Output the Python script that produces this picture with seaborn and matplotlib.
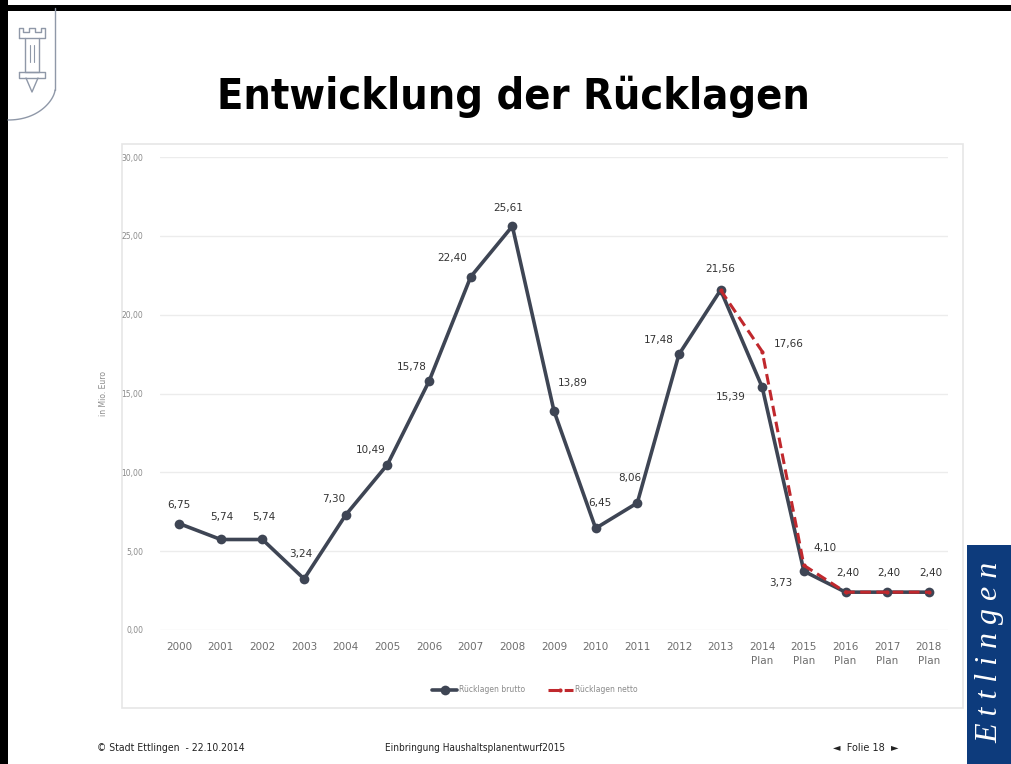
import numpy as np
import pandas as pd
import matplotlib
matplotlib.use("Agg")
import matplotlib.pyplot as plt
from matplotlib.patches import Rectangle
from matplotlib import font_manager
import seaborn as sns

# ---------------- data ----------------
categories = ["2000", "2001", "2002", "2003", "2004", "2005", "2006", "2007", "2008",
              "2009", "2010", "2011", "2012", "2013", "2014\nPlan", "2015\nPlan",
              "2016\nPlan", "2017\nPlan", "2018\nPlan"]
brutto = [6.75, 5.74, 5.74, 3.24, 7.30, 10.49, 15.78, 22.40, 25.61, 13.89, 6.45,
          8.06, 17.48, 21.56, 15.39, 3.73, 2.40, 2.40, 2.40]
netto = [np.nan] * 13 + [21.56, 17.66, 4.10, 2.40, 2.40, 2.40]
yticks = [0, 5, 10, 15, 20, 25, 30]
ytick_labels = ["0,00", "5,00", "10,00", "15,00", "20,00", "25,00", "30,00"]

# label offsets in pixels (dx, dy) for brutto labels
brutto_offsets = [(0, 19), (1, 22), (1, 22), (-3, 25), (-12, 16), (-17, 15), (-17, 14),
                  (-19, 19), (-4, 18), (19, 28), (4, 25), (-7, 25), (-20, 14), (0, 21),
                  (-31, -10), (-23, -12), None, None, None]
netto_offsets = [None] * 13 + [None, (27, 8), (21, 17), (2, 19), (2, 19), (2, 19)]

df = pd.DataFrame({"pos": np.arange(len(categories)), "brutto": brutto, "netto": netto})

W, H = 1012, 764
sns.set_theme(style="white")
plt.rcParams["font.family"] = ["DejaVu Sans"]
fig = plt.figure(figsize=(W / 100, H / 100), dpi=100)
fig.patch.set_facecolor("white")

cond_fp = font_manager.FontProperties(family="DejaVu Sans", weight="bold", stretch="condensed")
narrow_fp = font_manager.FontProperties(family="DejaVu Sans", stretch="condensed")

# ---------------- background decorations ----------------
bg = fig.add_axes([0, 0, 1, 1], zorder=-1)
bg.set_xlim(0, W)
bg.set_ylim(H, 0)
bg.axis("off")
# black slide frame
bg.add_patch(Rectangle((0, 5), W, 6, color="black", lw=0))
bg.add_patch(Rectangle((0, 0), 8, H, color="black", lw=0))
# chart frame
bg.add_patch(Rectangle((122, 144), 841, 564, fill=False, ec="#e6e6e6", lw=1.2))
# logo (shield + tower)
lc = "#8f98a8"
t = np.linspace(0, 1, 30)
bg.plot(55 + 0 * t[:10], np.linspace(8, 90, 10), color=lc, lw=1)
bg.plot(55 - 47 * t ** 1.6, 90 + 30 * np.sin(t * np.pi / 2), color=lc, lw=1)
bg.plot([19, 19, 23, 23, 29, 29, 35, 35, 41, 41, 45, 45, 19],
        [38, 28, 28, 32, 32, 28, 28, 32, 32, 28, 28, 38, 38], color=lc, lw=1)
bg.plot([25, 25, 39, 39], [38, 72, 72, 38], color=lc, lw=1)
bg.plot([19, 45, 45, 19, 19], [72, 72, 78, 78, 72], color=lc, lw=1)
bg.plot([26, 32, 38], [78, 92, 78], color=lc, lw=1)
bg.plot([30, 30], [45, 62], color=lc, lw=0.8)
bg.plot([34, 34], [45, 62], color=lc, lw=0.8)
# Ettlingen brand box
bg.add_patch(Rectangle((967, 545), 45, 219, color="#0d3b7c", lw=0))
bg.text(990, 652, "E t t l i n g e n", rotation=90, ha="center", va="center",
        color="white", fontsize=23, style="italic", family="Liberation Serif")

# title
fig.text(513 / W, 1 - 97 / H, "Entwicklung der Rücklagen", ha="center", va="center",
         fontsize=31, fontproperties=cond_fp, color="black")

# footer
fig.text(97 / W, 1 - 748 / H, "© Stadt Ettlingen  - 22.10.2014", fontsize=7.5,
         fontproperties=narrow_fp, va="center", color="#222222")
fig.text(385 / W, 1 - 748 / H, "Einbringung Haushaltsplanentwurf2015", fontsize=7.2,
         fontproperties=narrow_fp, va="center", color="#222222")
fig.text(866 / W, 1 - 748 / H, "◄  Folie 18  ►", fontsize=7, ha="center",
         family=["DejaVu Sans"], va="center", color="#222222")

# ---------------- chart ----------------
left, right = 160 / W, 948 / W
bottom, top = 1 - 630 / H, 1 - 157 / H
ax = fig.add_axes([left, bottom, right - left, top - bottom])
ax.set_facecolor("none")

gross_c = "#3e4554"
red_c = "#c0282d"

sns.lineplot(data=df, x="pos", y="brutto", ax=ax, color=gross_c, lw=2.6, marker="o",
             markersize=7, markeredgewidth=0, label="Rücklagen brutto", zorder=3)
sns.lineplot(data=df, x="pos", y="netto", ax=ax, color=red_c, lw=2.2, marker="o",
             markersize=3, markeredgewidth=0, dashes=(3.5, 1.8), label="Rücklagen netto",
             zorder=4)

ax.set_xlim(-0.46, len(categories) - 1 + 0.46)
ax.set_ylim(0, 30)
ax.set_yticks(yticks)
ax.set_yticklabels(ytick_labels, fontsize=5.5, color="#8a8a8a")
ax.set_xticks(df["pos"])
ax.set_xticklabels(categories, fontsize=7.5, color="#6e6e6e", linespacing=1.5)
ax.tick_params(axis="both", length=0)
ax.tick_params(axis="x", pad=9)
ax.tick_params(axis="y", pad=12)
ax.grid(axis="y", color="#ececec", lw=1)
ax.grid(axis="x", visible=False)
for s in ax.spines.values():
    s.set_visible(False)
ax.set_xlabel("")
ax.set_ylabel("in Mio. Euro", fontsize=5.5, color="#8a8a8a", labelpad=10)

def fmt(v):
    return f"{v:.2f}".replace(".", ",")

for i, v in enumerate(brutto):
    off = brutto_offsets[i]
    if off is not None:
        ax.annotate(fmt(v), (df["pos"][i], v), xytext=off, textcoords="offset pixels",
                    ha="center", va="center", fontsize=7.5, color="#333333")
for i, v in enumerate(netto):
    off = netto_offsets[i]
    if off is not None and not np.isnan(v):
        ax.annotate(fmt(v), (df["pos"][i], v), xytext=off, textcoords="offset pixels",
                    ha="center", va="center", fontsize=7.5, color="#333333")

leg = ax.legend(loc="center", bbox_to_anchor=((535 / W - left) / (right - left),
                                              (1 - 690 / H - bottom) / (top - bottom)),
                ncol=2, frameon=False, fontsize=5.5, handlelength=3.2, columnspacing=3,
                handletextpad=0.3)
for txt in leg.get_texts():
    txt.set_color("#8a8a8a")

fig.savefig("out.png", dpi=100)
